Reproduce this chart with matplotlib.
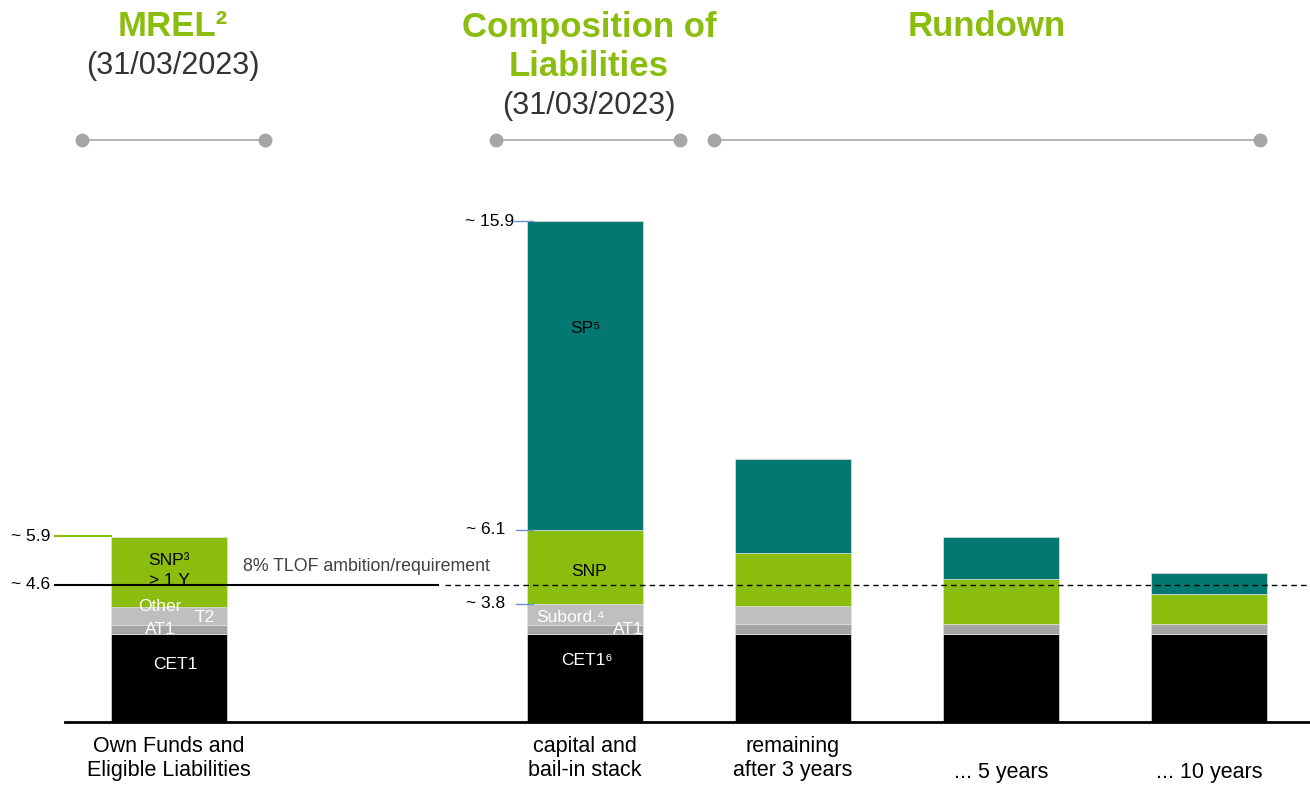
import matplotlib.pyplot as plt
import numpy as np

plt.rcParams['font.family'] = ['Liberation Sans', 'DejaVu Sans']

# data (bn)
categories = ['Own Funds and\nEligible Liabilities', 'capital and\nbail-in stack',
              'remaining\nafter 3 years', '... 5 years', '... 10 years']
positions = [0, 2, 3, 4, 5]
cet1 = [2.80, 2.80, 2.80, 2.80, 2.80]
at1 = [0.29, 0.29, 0.30, 0.30, 0.30]
subord = [0.57, 0.67, 0.57, 0.0, 0.0]
snp = [2.22, 2.32, 1.71, 1.43, 0.95]
sp = [0.0, 9.84, 2.98, 1.33, 0.67]

tlof_line = 4.35
mrel_total = 5.9
stack_marks = [15.9, 6.1, 3.75]
stack_labels = ['~ 15.9', '~ 6.1', '~ 3.8']

GREEN = '#8abd0e'
TEAL = '#027871'
LGRAY = '#bfbfbf'
DGRAY = '#a5a5a5'

fig = plt.figure(figsize=(13.1, 7.85), dpi=100)
ax = fig.add_axes([0, 63 / 785, 1, 572 / 785])
ax.set_xlim(-169 / 208, 1141 / 208)
ax.set_ylim(0, 572 / 31.5)
ax.axis('off')

w = 0.556
segs = [(cet1, 'black'), (at1, DGRAY), (subord, LGRAY), (snp, GREEN), (sp, TEAL)]
bottom = np.zeros(len(positions))
for vals, col in segs:
    v = np.array(vals)
    ax.bar(positions, v, w, bottom=bottom, color=col, edgecolor='#e0e0e0', linewidth=0.5)
    bottom += v

# baseline
ax.plot([-0.5, 1141 / 208], [0, 0], color='black', lw=2, clip_on=False)

# MREL markers
ax.plot([-0.548, -w / 2], [mrel_total, mrel_total], color=GREEN, lw=1.5)
ax.text(-0.572, mrel_total, '~ 5.9', ha='right', va='center', fontsize=12.5)
ax.plot([-0.548, 1.293], [tlof_line, tlof_line], color='black', lw=1.5)
ax.plot([1.327, 1141 / 208], [tlof_line, tlof_line], color='black', lw=1, ls=(0, (4, 3)))
ax.text(-0.572, tlof_line, '~ 4.6', ha='right', va='center', fontsize=12.5)
ax.text(0.356, 4.95, '8% TLOF ambition/requirement', ha='left', va='center',
        fontsize=12.8, color='#404040')

# stack markers
for yv, lab in zip(stack_marks, stack_labels):
    x0 = 1.66 if lab == '~ 15.9' else 1.668
    ax.plot([x0, 1.75], [yv, yv], color='#6f93d0', lw=1)
    ax.text(x0 - 0.05 if lab != '~ 15.9' else x0, yv, lab, ha='right', va='center', fontsize=12.5)

# segment labels
ax.text(0, 5.14, 'SNP³', ha='center', va='center', fontsize=12.5)
ax.text(0, 4.48, '> 1 Y', ha='center', va='center', fontsize=12.5)
ax.text(-0.043, 3.68, 'Other', ha='center', va='center', fontsize=12.5, color='white')
ax.text(0.173, 3.33, 'T2', ha='center', va='center', fontsize=12.5, color='white')
ax.text(-0.043, 2.95, 'AT1', ha='center', va='center', fontsize=12.5, color='white')
ax.text(0.03, 1.81, 'CET1', ha='center', va='center', fontsize=12.5, color='white')
ax.text(2.0, 12.5, 'SP⁵', ha='center', va='center', fontsize=12.5)
ax.text(2.02, 4.79, 'SNP', ha='center', va='center', fontsize=12.5)
ax.text(1.93, 3.33, 'Subord.⁴', ha='center', va='center', fontsize=12.5, color='white')
ax.text(2.21, 2.95, 'AT1', ha='center', va='center', fontsize=12.5, color='white')
ax.text(2.01, 1.94, 'CET1⁶', ha='center', va='center', fontsize=12.5, color='white')

# category labels
for p, c in zip(positions, categories):
    y = -1.17 if '\n' in c else -1.59
    ax.text(p, y, c, ha='center', va='center', fontsize=15.5, linespacing=1.2, clip_on=False)

# headers (pixel overlay)
hx = fig.add_axes([0, 0, 1, 1], zorder=-1)
hx.set_xlim(0, 1310)
hx.set_ylim(785, 0)
hx.axis('off')
hx.text(173, 27, 'MREL²', ha='center', va='center', fontsize=25, fontweight='bold', color=GREEN)
hx.text(173, 66, '(31/03/2023)', ha='center', va='center', fontsize=22, color='#333333')
hx.text(589, 27, 'Composition of', ha='center', va='center', fontsize=25, fontweight='bold', color=GREEN)
hx.text(589, 67, 'Liabilities', ha='center', va='center', fontsize=25, fontweight='bold', color=GREEN)
hx.text(589, 106, '(31/03/2023)', ha='center', va='center', fontsize=22, color='#333333')
hx.text(987, 27, 'Rundown', ha='center', va='center', fontsize=25, fontweight='bold', color=GREEN)
for a, b in [(82, 265), (496, 680), (714, 1260)]:
    hx.plot([a, b], [140, 140], color='#a6a6a6', lw=1.2, marker='o', markersize=9)

fig.savefig('out.png', dpi=100)
